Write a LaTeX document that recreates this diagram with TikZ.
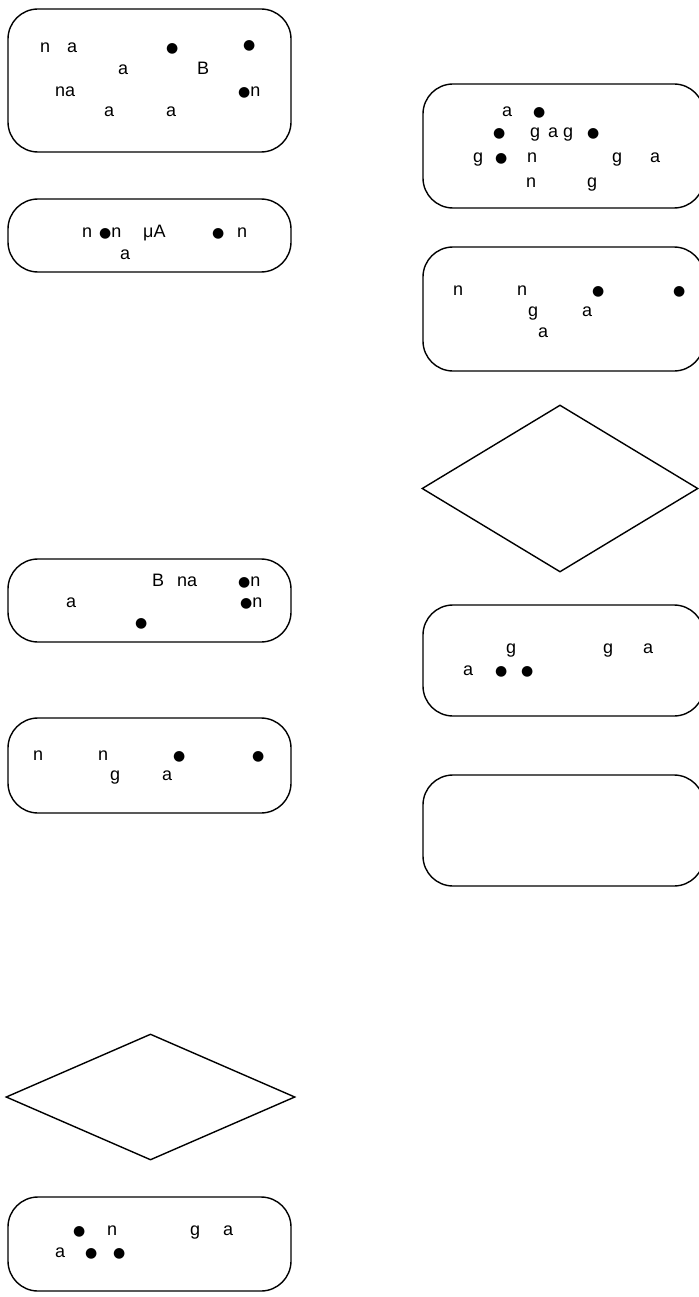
\documentclass[tikz,border=0pt]{standalone}
\usepackage{fontspec}
\setmainfont{Liberation Sans}
\newfontfamily\symfont{DejaVu Sans}
\usetikzlibrary{shapes.geometric}
\tikzset{
  procbox/.style={draw, rounded corners=30pt, line width=1.4pt, inner sep=0pt},
  decbox/.style={draw, diamond, line width=1.4pt, inner sep=0pt},
  frag/.style={anchor=base west, inner sep=0pt, font=\fontsize{18}{21}\selectfont}
}
\newcommand{\dotglyph}{{\symfont\fontsize{14}{16}\selectfont ●}}
% name, left, top, right, bottom (pixels)
\newcommand{\flowbox}[5]{
  \pgfmathsetmacro{\boxw}{#4-#2}
  \pgfmathsetmacro{\boxh}{#5-#3}
  \node[procbox, minimum width=\boxw pt, minimum height=\boxh pt] (#1) at ({(#2+#4)/2},{(#3+#5)/2}) {};
}
\begin{document}
\begin{tikzpicture}[x=1pt, y=-1pt]
\useasboundingbox (0,0) rectangle (698,1297);

% left column
\flowbox{start}{8}{9}{291}{152}
\flowbox{current}{8}{199}{291}{272}
\flowbox{loopA}{8}{559}{291}{642}
\flowbox{readA}{8}{718}{291}{813}
\node[decbox, minimum width=289pt, minimum height=126pt] (checkA) at (150.5,1097) {};
\flowbox{endA}{8}{1197}{291}{1291}

% right column
\flowbox{prep}{423}{84}{704}{208}
\flowbox{readB}{423}{247}{704}{371}
\node[decbox, minimum width=276pt, minimum height=167pt] (checkB) at (560,488.5) {};
\flowbox{endB}{423}{605}{704}{716}
\flowbox{stop}{423}{775}{704}{886}

% texts
\foreach \x/\y/\t [count=\i] in {
  40/53/n, 67/53/a, 166/53/\dotglyph, 243/50/\dotglyph, 118/75/a, 197/75/B,
  55/97/na, 238/97/{\dotglyph n}, 104/117/a, 166/117/a,
  82/238/n, 99/238/{\dotglyph n}, 143/238/μA, 212/238/\dotglyph, 237/238/n, 120/259/a,
  502/117/a, 533/117/\dotglyph, 493/138/\dotglyph, 530/138/g, 548/138/a, 563/138/g,
  587/138/\dotglyph, 473/163/g, 495/163/\dotglyph, 527/163/n, 612/163/g, 650/163/a,
  526/188/n, 587/188/g,
  453/295/n, 517/295/n, 592/295/\dotglyph, 673/295/\dotglyph, 528/316/g, 582/316/a, 538/337/a,
  152/586/B, 177/586/na, 238/586/{\dotglyph n}, 66/607/a, 240/607/{\dotglyph n}, 135/627/\dotglyph,
  33/760/n, 98/760/n, 173/760/\dotglyph, 252/760/\dotglyph, 110/780/g, 162/780/a,
  506/653/g, 603/653/g, 643/653/a, 463/675/a, 495/675/\dotglyph, 521/675/\dotglyph,
  73/1235/\dotglyph, 107/1235/n, 190/1235/g, 223/1235/a, 55/1257/a, 85/1257/\dotglyph, 113/1257/\dotglyph}
  \node[frag] (frag\i) at (\x,\y) {\t};
\end{tikzpicture}
\end{document}
